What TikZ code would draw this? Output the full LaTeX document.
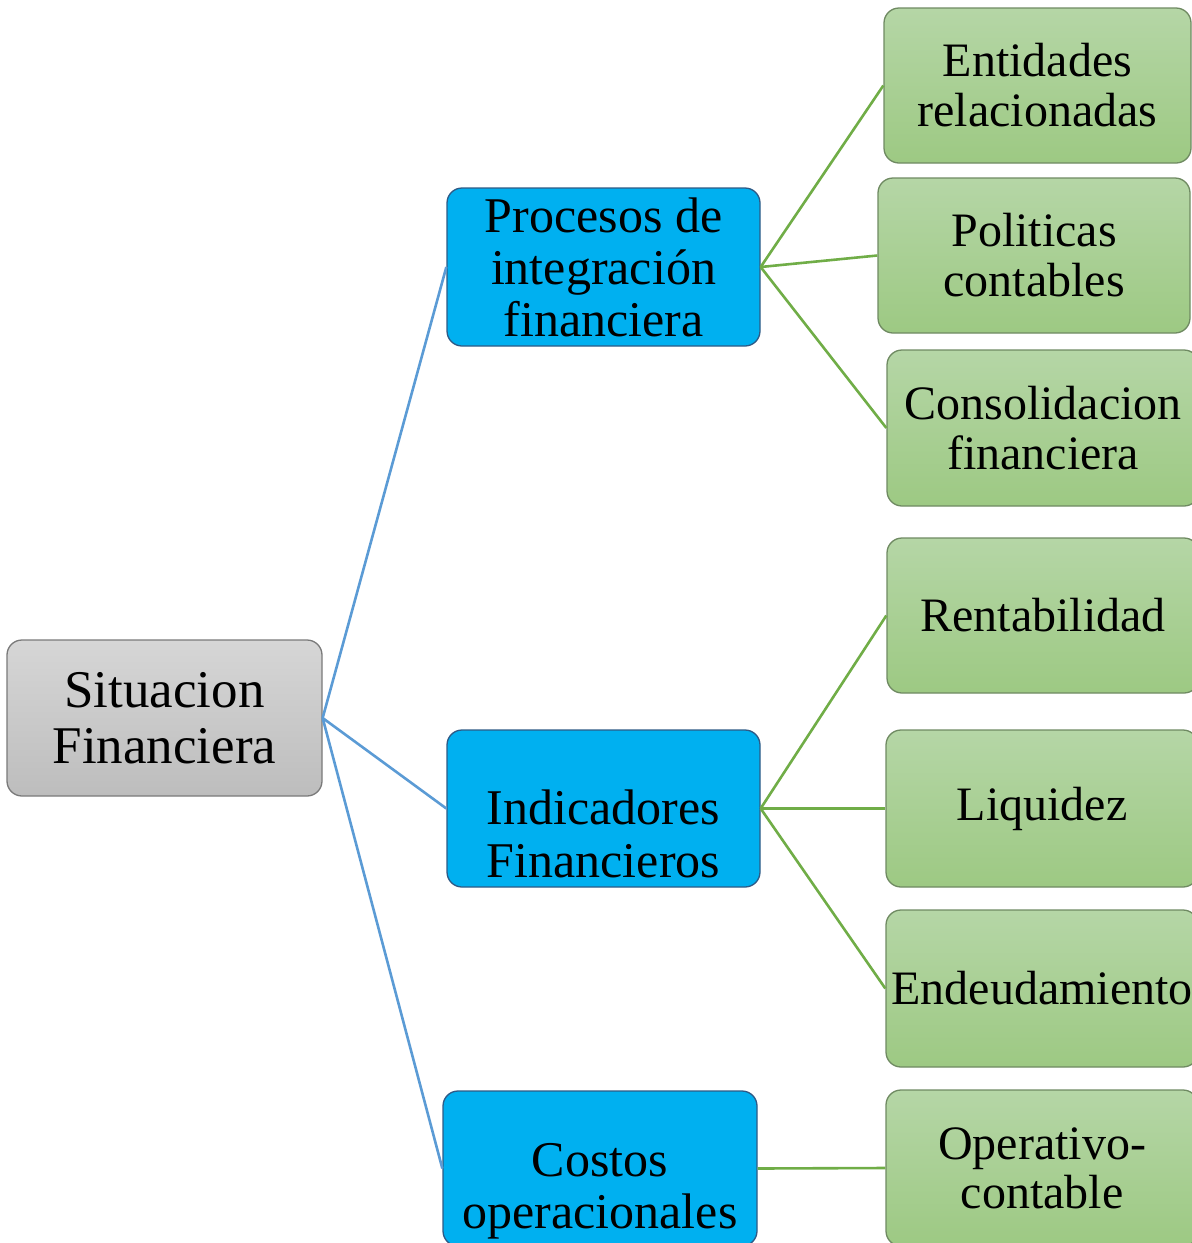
\documentclass[tikz,border=0pt]{standalone}
\usepackage{fontspec}
\setmainfont{Liberation Serif}
\definecolor{grayTop}{HTML}{D6D6D6}
\definecolor{grayBot}{HTML}{BDBDBD}
\definecolor{grayEdge}{HTML}{7A7A7A}
\definecolor{blueFill}{HTML}{00B0F0}
\definecolor{blueEdge}{HTML}{2E5A86}
\definecolor{greenTop}{HTML}{B5D6A6}
\definecolor{greenBot}{HTML}{9DC983}
\definecolor{greenEdge}{HTML}{6F8A62}
\definecolor{blueLine}{HTML}{5B9BD5}
\definecolor{greenLine}{HTML}{70AD47}
\tikzset{
  boxbase/.style={rectangle, rounded corners=15pt, inner sep=0pt, align=center, line width=1.3pt},
  graybox/.style={boxbase, draw=grayEdge, top color=grayTop, bottom color=grayBot,
    font=\fontsize{53}{56}\selectfont},
  bluebox/.style={boxbase, draw=blueEdge, fill=blueFill,
    font=\fontsize{50}{53}\selectfont},
  greenbox/.style={boxbase, draw=greenEdge, top color=greenTop, bottom color=greenBot,
    font=\fontsize{48}{50}\selectfont},
  plaintext/.style={inner sep=0pt, align=center, font=\fontsize{50}{53}\selectfont},
  blueconn/.style={draw=blueLine, line width=2.6pt},
  greenconn/.style={draw=greenLine, line width=2.6pt},
}
\begin{document}
\begin{tikzpicture}[x=1pt,y=-1pt]
\useasboundingbox (0,0) rectangle (1192,1243);
\clip (0,0) rectangle (1192,1243);

% root
\node[graybox, minimum width=315pt, minimum height=156pt] (sit) at (164.5,718) {Situacion\\Financiera};

% blue level
\node[bluebox, minimum width=313pt, minimum height=158pt, font=\fontsize{50}{52}\selectfont] (pro) at (603.5,267) {Procesos de\\integración\\financiera};
\node[bluebox, minimum width=313pt, minimum height=157pt] (ind) at (603.5,808.5) {};
\node[plaintext] (indT) at (603.5,834) {Indicadores\\Financieros};
\node[bluebox, minimum width=314pt, minimum height=155pt] (cos) at (600,1168.5) {};
\node[plaintext, font=\fontsize{50}{52}\selectfont] (cosT) at (600,1191) {Costos\\operacionales};

% green level
\node[greenbox, minimum width=307pt, minimum height=155pt] (ent) at (1037.5,85.5) {Entidades\\relacionadas};
\node[greenbox, minimum width=312pt, minimum height=155pt] (pol) at (1034,255.5) {Politicas\\contables};
\node[greenbox, minimum width=312pt, minimum height=156pt] (con) at (1043,428) {Consolidacion\\financiera};
\node[greenbox, minimum width=312pt, minimum height=155pt] (ren) at (1043,615.5) {Rentabilidad};
\node[greenbox, minimum width=312pt, minimum height=157pt] (liq) at (1042,808.5) {Liquidez};
\node[greenbox, minimum width=312pt, minimum height=157pt] (end) at (1042,988.5) {Endeudamiento};
\node[greenbox, minimum width=312pt, minimum height=156pt, font=\fontsize{48}{49}\selectfont] (ope) at (1042,1168) {Operativo-\\contable};

% connectors
\draw[blueconn] (sit.east) -- (pro.west);
\draw[blueconn] (sit.east) -- (ind.west);
\draw[blueconn] (sit.east) -- (cos.west);

\draw[greenconn] (pro.east) -- (ent.west);
\draw[greenconn] (pro.east) -- (pol.west);
\draw[greenconn] (pro.east) -- (con.west);
\draw[greenconn] (ind.east) -- (ren.west);
\draw[greenconn] (ind.east) -- (liq.west);
\draw[greenconn] (ind.east) -- (end.west);
\draw[greenconn] (cos.east) -- (ope.west);
\end{tikzpicture}
\end{document}
